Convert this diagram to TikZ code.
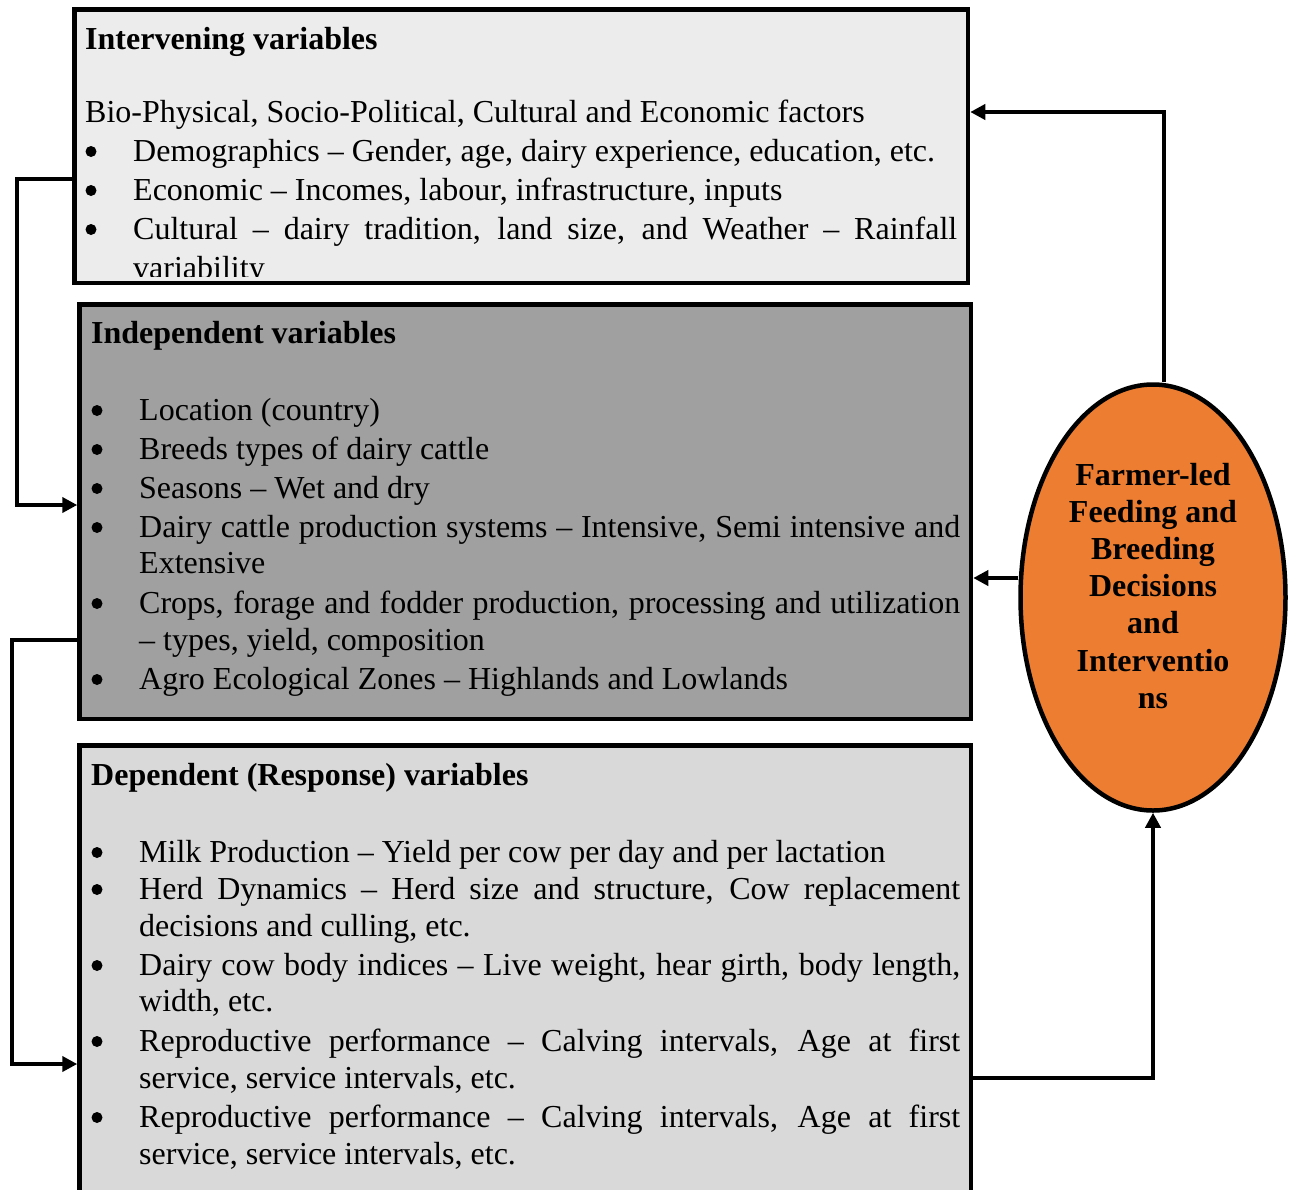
\documentclass[tikz,border=0pt]{standalone}
\usepackage{fontspec}
\setmainfont{Liberation Serif}
\usetikzlibrary{arrows.meta,shapes.geometric,calc}
\definecolor{boxa}{HTML}{ECECEC}
\definecolor{boxb}{HTML}{A0A0A0}
\definecolor{boxc}{HTML}{D9D9D9}
\definecolor{orng}{HTML}{ED7D31}
\newcommand{\jl}[2]{\makebox[#1][s]{#2}}
\begin{document}
\begin{tikzpicture}[x=1pt,y=-1pt,
  txt/.style={inner sep=0pt, anchor=base west, font=\fontsize{32}{38}\selectfont},
  ttl/.style={inner sep=0pt, anchor=base west, font=\fontsize{32}{38}\selectfont\bfseries},
  bul/.style={circle, fill=black, inner sep=0pt, minimum size=11pt},
  vbox/.style={draw, line width=4.5pt, rectangle, inner sep=0pt},
  conn/.style={line width=4.5pt, -{Triangle[length=15pt,width=15pt]}}]
\clip (0,0) rectangle (1290,1189);
\fill[white] (0,0) rectangle (1290,1189);

% boxes
\node[vbox, fill=boxa, minimum width=893.5pt, minimum height=273.5pt] (box1) at (521.25,146.25) {};
\node[vbox, fill=boxb, minimum width=891.5pt, minimum height=414.5pt] (box2) at (525.25,511.75) {};
\node[vbox, fill=boxc, minimum width=891.5pt, minimum height=464.5pt] (box3) at (525.25,977.75) {};
\node[ellipse, draw, line width=4.5pt, fill=orng, minimum width=265pt, minimum height=426pt, inner sep=0pt] (ell) at (1153,597.5) {};

% box 1 text
\begin{scope}
\clip (77,12) rectangle (965,276);
\node[ttl] (t1) at (85,49) {Intervening variables};
\node[txt] (t1a) at (85,122) {Bio-Physical, Socio-Political, Cultural and Economic factors};
\node[bul] (b1b) at (91,151.5) {};
\node[txt] (t1b) at (133,161) {Demographics – Gender, age, dairy experience, education, etc.};
\node[bul] (b1c) at (91,190.5) {};
\node[txt] (t1c) at (133,200) {Economic – Incomes, labour, infrastructure, inputs};
\node[bul] (b1d) at (91,229.5) {};
\node[txt] (t1d) at (133,239) {\jl{824pt}{Cultural – dairy tradition, land size, and Weather – Rainfall}};
\node[txt] (t1e) at (133,278) {variability};
\end{scope}

% box 2 text
\node[ttl] (t2) at (91,343) {Independent variables};
\node[bul] (b2a) at (97,410.5) {};
\node[txt] (t2a) at (139,420) {Location (country)};
\node[bul] (b2b) at (97,449.5) {};
\node[txt] (t2b) at (139,459) {Breeds types of dairy cattle};
\node[bul] (b2c) at (97,488.5) {};
\node[txt] (t2c) at (139,498) {Seasons – Wet and dry};
\node[bul] (b2d) at (97,527.5) {};
\node[txt] (t2d) at (139,537) {\jl{821pt}{Dairy cattle production systems – Intensive, Semi intensive and}};
\node[txt] (t2e) at (139,573) {Extensive};
\node[bul] (b2f) at (97,603.5) {};
\node[txt] (t2f) at (139,613) {\jl{821pt}{Crops, forage and fodder production, processing and utilization}};
\node[txt] (t2g) at (139,650) {– types, yield, composition};
\node[bul] (b2h) at (97,679.5) {};
\node[txt] (t2h) at (139,689) {Agro Ecological Zones – Highlands and Lowlands};

% box 3 text
\node[ttl] (t3) at (91,785) {Dependent (Response) variables};
\node[bul] (b3a) at (97,852.5) {};
\node[txt] (t3a) at (139,862) {Milk Production – Yield per cow per day and per lactation};
\node[bul] (b3b) at (97,889.5) {};
\node[txt] (t3b) at (139,899) {\jl{821pt}{Herd Dynamics – Herd size and structure, Cow replacement}};
\node[txt] (t3c) at (139,936) {decisions and culling, etc.};
\node[bul] (b3d) at (97,965.5) {};
\node[txt] (t3d) at (139,975) {\jl{821pt}{Dairy cow body indices – Live weight, hear girth, body length,}};
\node[txt] (t3e) at (139,1011) {width, etc.};
\node[bul] (b3f) at (97,1041.5) {};
\node[txt] (t3f) at (139,1051) {\jl{821pt}{Reproductive performance – Calving intervals, Age at first}};
\node[txt] (t3g) at (139,1088) {service, service intervals, etc.};
\node[bul] (b3h) at (97,1117.5) {};
\node[txt] (t3h) at (139,1127) {\jl{821pt}{Reproductive performance – Calving intervals, Age at first}};
\node[txt] (t3i) at (139,1164) {service, service intervals, etc.};

% ellipse text
\node[font=\fontsize{32}{37.2}\selectfont\bfseries, align=center, anchor=north, inner sep=0pt] (elltxt) at (1153,462.7) {Farmer-led\\Feeding and\\Breeding\\Decisions\\and\\Interventio\\ns};

% connectors
\coordinate (ct) at (1164,112);
\draw[conn] (ell.north -| ct) -- (ct) -- (box1.east |- ct);
\coordinate (cm) at (1000,578);
\draw[conn] (ell.west |- cm) -- (box2.east |- cm);
\coordinate (cb) at (1153,1078);
\draw[conn] (box3.east |- cb) -- (cb) -- (ell.south);
\coordinate (l1a) at (17,179);
\coordinate (l1b) at (17,505);
\draw[conn] (box1.west |- l1a) -- (l1a) -- (l1b) -- (box2.west |- l1b);
\coordinate (l2a) at (12,640);
\coordinate (l2b) at (12,1064);
\draw[conn] (box2.west |- l2a) -- (l2a) -- (l2b) -- (box3.west |- l2b);
\end{tikzpicture}
\end{document}
